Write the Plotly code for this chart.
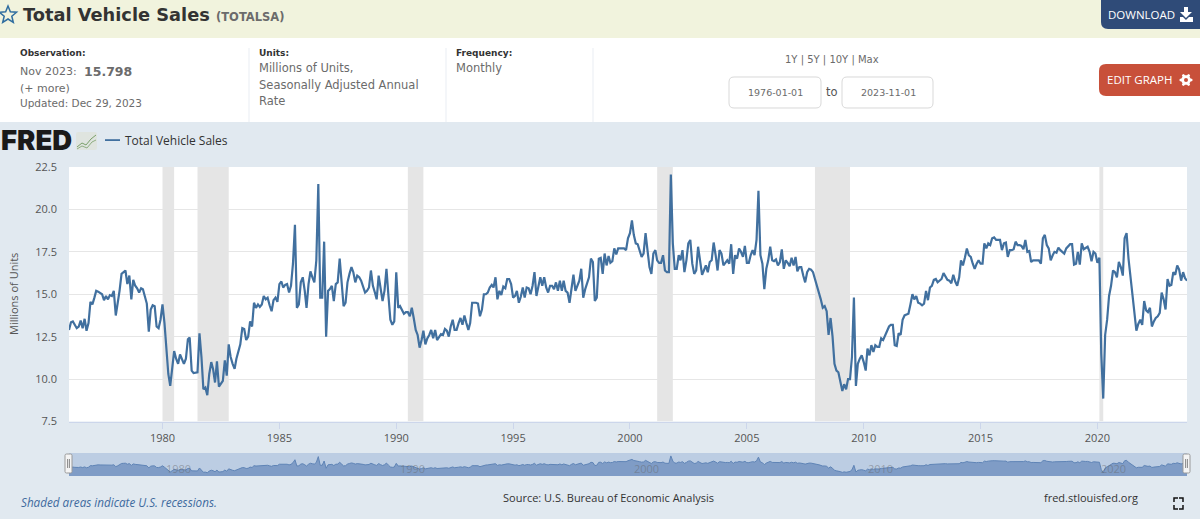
"""Total Vehicle Sales (TOTALSA) FRED page: header, line chart, navigator strip."""

import math

import pandas as pd
import plotly.graph_objects as go

PAGE_W = 1200
PAGE_H = 519

SERIES_NAME = "Total Vehicle Sales"

# Monthly values in millions of units.
sales_1970s = [
    12.9, 13.35, 13.4, 13.2, 13.0, 13.1, 13.45, 13.0, 13.55, 12.85, 13.3, 14.55,  # 1976
    14.4, 14.8, 15.2, 15.15, 15.05, 15.0, 14.65, 14.9, 14.7, 14.95, 14.9, 15.2,
    13.75, 14.4, 15.2, 16.2, 16.3, 16.4, 15.6, 16.1, 14.7, 15.85, 15.5, 15.35,
    15.1, 15.35, 15.3, 14.8, 14.45, 12.8, 14.1, 14.35, 14.3, 13.1, 13.0, 13.5,
]
sales_1980s = [
    14.4, 13.3, 12.0, 10.3, 9.6, 10.6, 11.65, 11.2, 10.9, 11.45, 11.2, 10.9,
    11.2, 12.35, 12.45, 10.5, 10.35, 10.4, 10.4, 12.7, 11.3, 9.4, 9.5, 9.05,
    10.3, 11.0, 10.6, 9.8, 11.05, 9.55, 9.7, 9.9, 11.1, 10.2, 12.05, 11.3,
    10.9, 10.6, 11.2, 11.7, 12.05, 13.0, 12.95, 12.3, 12.5, 13.4, 13.1, 14.5,
    14.2, 14.4, 14.25, 14.4, 14.9, 14.7, 14.8, 14.35, 14.0, 14.65, 14.8, 14.55,
    15.6, 15.75, 15.4, 15.55, 15.6, 15.1, 15.5, 16.8, 19.1, 14.2, 14.4, 15.7,
    16.0, 15.2, 14.2, 15.6, 16.35, 16.0, 15.7, 17.0, 21.5, 14.8, 14.8, 18.1,
    12.5, 15.2, 15.3, 15.5, 14.6, 15.6, 15.7, 17.1, 15.7, 14.3, 14.5, 15.7,
    16.2, 16.6, 16.3, 15.7, 16.1, 16.0, 15.8, 15.5, 15.1, 15.2, 15.4, 16.4,
    15.5, 15.1, 14.7, 16.1, 15.3, 14.6, 15.2, 16.5, 14.9, 13.5, 13.2, 13.4,
]
sales_1990s = [
    16.3, 14.2, 14.3, 14.1, 13.85, 13.95, 13.95, 13.7, 14.2, 13.6, 12.9, 12.6,
    11.85, 12.3, 12.85, 12.05, 12.4, 12.6, 12.9, 12.4, 12.9, 12.3, 12.45, 12.65,
    12.6, 12.95, 12.85, 12.5, 13.1, 13.5, 12.9, 12.9, 13.3, 13.6, 13.2, 13.75,
    13.3, 12.9, 13.3, 14.5, 14.5, 14.5, 14.45, 13.7, 14.1, 15.0, 15.0, 15.1,
    15.4, 15.55, 15.4, 16.0, 14.7, 15.2, 14.95, 15.45, 15.35, 15.9, 15.9, 15.6,
    14.8, 14.9, 15.2, 14.5, 14.85, 15.4, 14.8, 15.4, 15.35, 15.0, 15.5, 16.3,
    14.9, 15.6, 16.0, 15.5, 16.0, 15.4, 15.1, 15.5, 15.5, 15.3, 15.7, 15.2,
    15.8, 15.2, 15.8, 15.2, 15.1, 14.5, 15.5, 16.15, 15.2, 15.5, 15.8, 16.5,
    14.8, 15.3, 15.7, 16.0, 17.1, 16.9, 14.6, 14.8, 17.1, 17.15, 16.2, 17.4,
    16.7, 17.25, 16.85, 16.95, 17.7, 17.35, 17.7, 17.7, 17.7, 17.7, 17.6, 18.3,
]
sales_2000s = [
    18.6, 19.35, 18.5, 18.0, 17.95, 17.6, 17.2, 17.4, 18.6, 17.6, 16.6, 16.2,
    17.4, 17.6, 17.0, 16.85, 16.85, 17.3, 16.4, 16.3, 16.3, 22.05, 18.0, 16.5,
    16.5, 17.3, 17.0, 17.6, 16.3, 17.0, 18.0, 18.2, 16.8, 16.2, 16.4, 17.8,
    16.9, 16.15, 16.4, 16.7, 16.3, 16.9, 17.0, 18.05, 17.3, 16.4, 17.6, 17.4,
    16.7, 16.9, 17.0, 16.8, 17.95, 16.2, 17.3, 17.1, 17.7, 17.5, 17.2, 17.85,
    16.85, 16.85, 17.3, 17.6, 17.3, 18.2, 21.1, 17.3, 16.8, 15.3, 16.5, 17.0,
    17.8, 17.0, 16.95, 17.05, 16.7, 16.9, 17.65, 16.5, 17.0, 16.85, 16.65, 17.15,
    16.7, 17.2, 16.35, 16.6, 16.6, 16.1, 15.7, 16.3, 16.5, 16.45, 16.3, 15.9,
    15.5, 15.2, 14.7, 14.2, 14.3, 14.0, 12.6, 13.6, 12.5, 10.9, 10.5, 10.4,
    9.9, 9.3, 9.7, 9.4, 10.0, 10.0, 11.3, 14.8, 9.6, 10.9, 11.2, 11.4,
]
sales_2010s = [
    11.0, 10.5, 11.8, 11.4, 12.0, 11.6, 12.0, 11.9, 11.9, 12.4, 12.3, 12.6,
    12.8, 13.1, 13.2, 13.2, 12.0, 11.95, 12.7, 12.6, 13.5, 13.75, 13.8, 13.85,
    14.4, 15.0, 14.7, 14.9, 14.5, 14.45, 14.35, 14.45, 15.2, 14.65, 15.4, 15.5,
    15.85, 15.9, 15.7, 15.8, 15.9, 16.25, 16.05, 15.85, 15.8, 15.65, 16.15, 15.75,
    15.5, 16.0, 17.0, 16.7, 17.15, 17.7, 17.3, 17.2, 16.8, 16.5, 16.8, 17.0,
    16.8, 16.8, 18.0, 17.7, 18.0, 17.9, 18.3, 18.35, 18.2, 18.2, 18.2, 17.6,
    18.0, 18.05, 17.2, 17.6, 17.6, 17.65, 18.1, 17.9, 17.9, 17.85, 17.65, 18.2,
    17.5, 17.55, 16.9, 17.0, 17.0, 17.0, 17.0, 16.8, 18.3, 18.5, 17.9, 17.7,
    17.0, 17.3, 17.5, 17.45, 17.75, 17.6, 17.5, 17.4, 17.7, 17.85, 17.95, 17.95,
    16.75, 16.8, 17.5, 16.75, 18.0, 17.65, 17.75, 17.8, 17.5, 16.95, 17.5, 17.4,
]
sales_2020s = [
    16.85, 17.15, 11.5, 8.85, 12.6, 13.5, 14.9, 15.5, 16.4, 16.3, 16.0, 16.9,
    16.6, 16.1, 18.3, 18.6, 17.1, 15.95, 15.15, 13.9, 12.85, 13.25, 13.5, 13.2,
    14.6, 14.05, 13.95, 14.2, 13.1, 13.4, 13.6, 13.7, 13.9, 15.1, 14.7, 14.1,
    15.9, 15.5, 15.55, 16.3, 16.15, 16.7, 16.45, 15.8, 16.3, 15.95, 15.8,
]

recession_starts = ["1980-01-01", "1981-07-01", "1990-07-01", "2001-03-01", "2007-12-01", "2020-02-01"]
recession_ends = ["1980-07-01", "1982-11-01", "1991-03-01", "2001-11-01", "2009-06-01", "2020-04-01"]

y_ticks = [7.5, 10.0, 12.5, 15.0, 17.5, 20.0, 22.5]
x_tick_years = [1980, 1985, 1990, 1995, 2000, 2005, 2010, 2015, 2020]
nav_tick_years = [1980, 1990, 2000, 2010, 2020]
NAV_RANGE = [6.5, 24.3]

# Page colours
BAND_GREEN = "#f1f3dd"
PAGE_BLUE = "#e1e9f0"
LINE_BLUE = "#41709f"
GRID = "#e6e6e6"
RECESSION = "#e5e5e5"
TEXT_GREY = "#6b6b6b"
TEXT_DARK = "#333333"
AXIS_TEXT = "#555555"
VERDANA_LIKE = "DejaVu Sans"
OPEN_SANS = "Open Sans"

values = sales_1970s + sales_1980s + sales_1990s + sales_2000s + sales_2010s + sales_2020s
dates = pd.date_range("1976-01-01", periods=len(values), freq="MS")


def fx(x):
    return x / PAGE_W


def fy(y):
    return 1 - y / PAGE_H


def paper_path(points, close=True):
    """Polygon path from pixel points, in paper fractions."""
    parts = [f"{'M' if i == 0 else 'L'}{fx(x):.5f},{fy(y):.5f}" for i, (x, y) in enumerate(points)]
    return " ".join(parts) + (" Z" if close else "")


def rounded_rect(x0, y0, x1, y1, r):
    """Rounded rectangle path from pixel corners."""
    return (
        f"M{fx(x0 + r):.5f},{fy(y0):.5f} L{fx(x1 - r):.5f},{fy(y0):.5f} "
        f"Q{fx(x1):.5f},{fy(y0):.5f} {fx(x1):.5f},{fy(y0 + r):.5f} "
        f"L{fx(x1):.5f},{fy(y1 - r):.5f} Q{fx(x1):.5f},{fy(y1):.5f} {fx(x1 - r):.5f},{fy(y1):.5f} "
        f"L{fx(x0 + r):.5f},{fy(y1):.5f} Q{fx(x0):.5f},{fy(y1):.5f} {fx(x0):.5f},{fy(y1 - r):.5f} "
        f"L{fx(x0):.5f},{fy(y0 + r):.5f} Q{fx(x0):.5f},{fy(y0):.5f} {fx(x0 + r):.5f},{fy(y0):.5f} Z"
    )


def rect(x0, y0, x1, y1, fill, layer="below"):
    return dict(type="rect", xref="paper", yref="paper", x0=fx(x0), x1=fx(x1), y0=fy(y1), y1=fy(y0),
                fillcolor=fill, line_width=0, layer=layer)


def path(d, fill="rgba(0,0,0,0)", stroke=None, width=1, layer="above"):
    return dict(type="path", xref="paper", yref="paper", path=d, fillcolor=fill,
                line=dict(color=stroke or "rgba(0,0,0,0)", width=width if stroke else 0), layer=layer)


def label(x, y, text, size=11, color=TEXT_GREY, family=VERDANA_LIKE, anchor="left", angle=0, weight=None):
    font = dict(size=size, color=color, family=family)
    if weight:
        font["weight"] = weight
    return dict(xref="paper", yref="paper", x=fx(x), y=fy(y), text=text, showarrow=False,
                xanchor=anchor, yanchor="middle", textangle=angle, borderpad=0, font=font)


def star_points(cx, cy, r_out, r_in):
    pts = []
    for k in range(10):
        r = r_out if k % 2 == 0 else r_in
        a = -math.pi / 2 + k * math.pi / 5
        pts.append((cx + r * math.cos(a), cy + r * math.sin(a)))
    return pts


def gear_points(cx, cy, r_out, r_in, teeth=6):
    pts = []
    step = 2 * math.pi / teeth
    for k in range(teeth):
        a = k * step
        for da, r in ((-0.30, r_in), (-0.17, r_out), (0.17, r_out), (0.30, r_in)):
            pts.append((cx + r * math.cos(a + da), cy + r * math.sin(a + da)))
    return pts


fig = go.Figure()

fig.add_trace(go.Scatter(x=dates, y=values, mode="lines", name=SERIES_NAME,
                         line=dict(color=LINE_BLUE, width=2.2), showlegend=False,
                         xaxis="x", yaxis="y"))
fig.add_trace(go.Scatter(x=dates, y=values, mode="lines", fill="tozeroy", fillcolor="#7f9cc6",
                         line=dict(color="#5f84b6", width=1), showlegend=False,
                         hoverinfo="skip", xaxis="x2", yaxis="y2"))

shapes = [
    rect(0, 0, PAGE_W, 38, BAND_GREEN),
    rect(0, 38, PAGE_W, 122, "#ffffff"),
    path(paper_path(star_points(8, 15, 9, 4)), stroke="#2f6d9f", width=1.5),
    rect(248.5, 48, 249.5, 122, "#e9edf3"),
    rect(445.5, 48, 446.5, 122, "#e9edf3"),
    rect(592.5, 48, 593.5, 122, "#e9edf3"),
    path(rounded_rect(729, 77, 821, 108, 5), fill="#ffffff", stroke="#d9d9d9"),
    path(rounded_rect(842, 77, 933, 108, 5), fill="#ffffff", stroke="#d9d9d9"),
    # Buttons and their icons
    path(rounded_rect(1101, -6, 1206, 29, 7), fill="#2f4b78"),
    path(paper_path([(1184, 7), (1188, 7), (1188, 12), (1192, 12), (1186, 18), (1180, 12), (1184, 12)]), fill="#ffffff"),
    path(paper_path([(1180, 17), (1183, 17), (1186, 20), (1189, 17), (1193, 17), (1193, 22), (1180, 22)]), fill="#ffffff"),
    path(rounded_rect(1099, 64, 1206, 96, 7), fill="#c8503a"),
    path(paper_path(gear_points(1186, 80, 6.5, 4.8)), fill="#ffffff"),
    dict(type="circle", xref="paper", yref="paper", x0=fx(1184), x1=fx(1188), y0=fy(82), y1=fy(78),
         fillcolor="#c8503a", line_width=0, layer="above"),
    # FRED logo chart icon and legend key
    path(rounded_rect(76, 132, 97, 150, 2), fill="#dfe4df"),
    path(paper_path([(77, 147), (82, 143), (86, 145), (91, 139), (96, 135)], close=False), stroke="#7aa06a", width=1),
    path(paper_path([(77, 149), (82, 146), (87, 148), (92, 142), (96, 140)], close=False), stroke="#8fae82", width=1),
    rect(105, 139.2, 120, 141, LINE_BLUE, layer="above"),
    # Fullscreen icon corners
    path(paper_path([(1174, 502), (1174, 498), (1178, 498)], close=False), stroke="#111111", width=1.5),
    path(paper_path([(1179, 498), (1183, 498), (1183, 502)], close=False), stroke="#111111", width=1.5),
    path(paper_path([(1174, 505), (1174, 509), (1178, 509)], close=False), stroke="#111111", width=1.5),
    path(paper_path([(1179, 509), (1183, 509), (1183, 505)], close=False), stroke="#111111", width=1.5),
    # Navigator mask and handles
    dict(type="rect", xref="x2", yref="y2", x0=dates[0], x1=dates[-1], y0=NAV_RANGE[0], y1=NAV_RANGE[1],
         fillcolor="#bccde3", line_width=0, layer="between"),
    path(rounded_rect(65, 454, 72, 473, 1.5), fill="#f4f4f4", stroke="#9a9a9a"),
    path(paper_path([(67.6, 459), (67.6, 468)], close=False), stroke="#888888", width=1),
    path(paper_path([(69.4, 459), (69.4, 468)], close=False), stroke="#888888", width=1),
    path(rounded_rect(1183, 454, 1190, 473, 1.5), fill="#f4f4f4", stroke="#9a9a9a"),
    path(paper_path([(1185.6, 459), (1185.6, 468)], close=False), stroke="#888888", width=1),
    path(paper_path([(1187.4, 459), (1187.4, 468)], close=False), stroke="#888888", width=1),
]
for start, end in zip(recession_starts, recession_ends):
    shapes.append(dict(type="rect", xref="x", yref="y", x0=start, x1=end, y0=y_ticks[0], y1=y_ticks[-1],
                       fillcolor=RECESSION, line_width=0, layer="between"))

annotations = [
    label(22, 14, "<b>Total Vehicle Sales</b>", size=17.8, color=TEXT_DARK),
    label(215, 17, "<b>(TOTALSA)</b>", size=11.5, color=TEXT_GREY),
    label(19, 53, "<b>Observation:</b>", size=9, color=TEXT_DARK),
    label(19, 71, "Nov 2023:", size=11),
    label(83, 71, "<b>15.798</b>", size=12.5),
    label(19, 88, "(+ more)", size=11),
    label(19, 103, "Updated: Dec 29, 2023", size=10.5),
    label(258, 53, "<b>Units:</b>", size=9, color=TEXT_DARK),
    label(258, 68, "Millions of Units,", size=11.5),
    label(258, 85, "Seasonally Adjusted Annual", size=11.5),
    label(258, 101, "Rate", size=11.5),
    label(455, 53, "<b>Frequency:</b>", size=9, color=TEXT_DARK),
    label(455, 68, "Monthly", size=11.5),
    label(832, 60, "1Y | 5Y | 10Y | Max", size=10, anchor="center"),
    label(775, 93, "1976-01-01", size=9.5, anchor="center"),
    label(832, 92, "to", size=11.5, color="#555555", anchor="center"),
    label(888, 93, "2023-11-01", size=9.5, anchor="center"),
    label(1107, 14, "DOWNLOAD", size=11.5, color="#ffffff", family=OPEN_SANS),
    label(1106, 80, "EDIT GRAPH", size=11.5, color="#ffffff", family=OPEN_SANS),
    label(0, 140, "FRED", size=27.5, color="#1a1a1a", family="Inter", weight=900),
    label(124, 140, SERIES_NAME, size=12, color=TEXT_DARK, family=OPEN_SANS),
    label(20, 502, "<i>Shaded areas indicate U.S. recessions.</i>", size=11.7, color="#3e6a9e", family=OPEN_SANS),
    label(609, 497, "Source: U.S. Bureau of Economic Analysis", size=11, color=TEXT_DARK, family=OPEN_SANS, anchor="center"),
    label(1091, 497, "fred.stlouisfed.org", size=11, color=TEXT_DARK, family=OPEN_SANS, anchor="center"),
    label(13, 294, "Millions of Units", size=11, color=AXIS_TEXT, family=OPEN_SANS, anchor="center", angle=-90),
]
for year in nav_tick_years:
    annotations.append(dict(xref="x2", yref="y2 domain", x=f"{year}-01-01", y=0.33, text=str(year),
                            showarrow=False, xanchor="left", yanchor="middle", xshift=2,
                            font=dict(size=11, color="rgba(100,100,100,0.45)", family=OPEN_SANS)))

fig.update_layout(
    width=PAGE_W,
    height=PAGE_H,
    margin=dict(l=0, r=0, t=0, b=0, autoexpand=False),
    autosize=False,
    paper_bgcolor=PAGE_BLUE,
    plot_bgcolor="#ffffff",
    showlegend=False,
    shapes=shapes,
    annotations=annotations,
    xaxis=dict(
        domain=[fx(69), fx(1187)],
        anchor="y",
        range=[dates[0], dates[-1]],
        tickmode="array",
        tickvals=[f"{y}-01-01" for y in x_tick_years],
        ticktext=[str(y) for y in x_tick_years],
        ticks="outside",
        ticklen=6,
        tickcolor="#ccd6eb",
        showgrid=False,
        showline=True,
        linecolor="#ccd6eb",
        tickfont=dict(size=11, color=AXIS_TEXT, family=OPEN_SANS),
    ),
    yaxis=dict(
        domain=[fy(421.5), fy(167)],
        anchor="x",
        range=[y_ticks[0], y_ticks[-1]],
        tickmode="array",
        tickvals=y_ticks,
        ticktext=[f"{v:.1f}" for v in y_ticks],
        ticks="",
        ticklen=0,
        ticklabelstandoff=11,
        gridcolor=GRID,
        gridwidth=1,
        zeroline=False,
        tickfont=dict(size=11, color=AXIS_TEXT, family=OPEN_SANS),
    ),
    xaxis2=dict(
        domain=[fx(69), fx(1187)],
        anchor="y2",
        range=[dates[0], dates[-1]],
        showticklabels=False,
        ticks="",
        showgrid=False,
        zeroline=False,
    ),
    yaxis2=dict(
        domain=[fy(476), fy(453)],
        anchor="x2",
        range=NAV_RANGE,
        showticklabels=False,
        ticks="",
        showgrid=False,
        zeroline=False,
    ),
)

fig.write_html("out.html", config={"displayModeBar": False},
               post_script="document.body.style.margin='0';")
